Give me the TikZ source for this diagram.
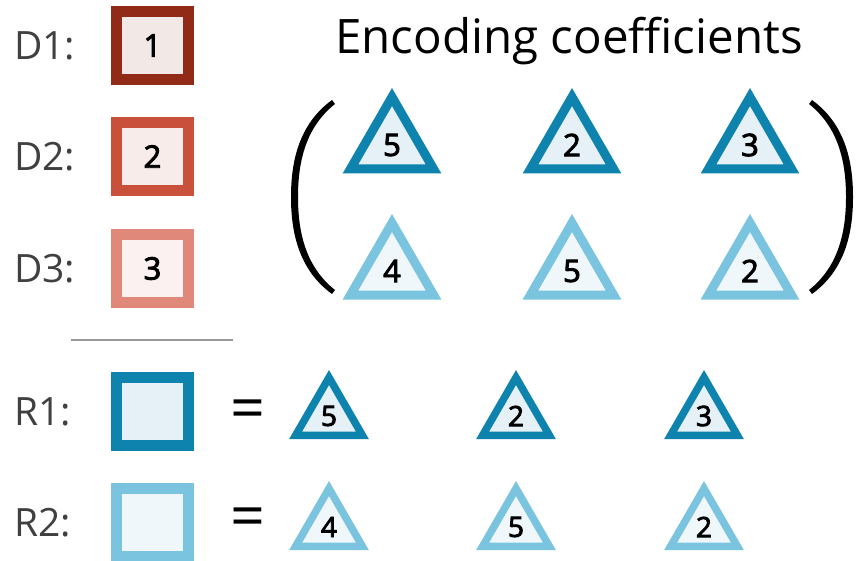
\documentclass[tikz,border=0pt]{standalone}
\usepackage{fontspec}
\setmainfont{Open Sans}
\newfontfamily\numfont{Open Sans}[FakeBold=3]
\usetikzlibrary{shapes.geometric}

% data blocks (reds) and coefficient rows (blues)
\definecolor{dataone}{HTML}{922A18}
\definecolor{datatwo}{HTML}{C9503B}
\definecolor{datathree}{HTML}{E0887A}
\definecolor{dataonefill}{HTML}{F2E9E7}
\definecolor{datatwofill}{HTML}{F7ECE9}
\definecolor{datathreefill}{HTML}{FAF1F0}
\definecolor{rowone}{HTML}{0E83AD}
\definecolor{rowtwo}{HTML}{7AC4DF}
\definecolor{rowonefill}{HTML}{E6F1F7}
\definecolor{rowtwofill}{HTML}{EFF7FB}
\definecolor{labelgray}{HTML}{404040}

\tikzset{
  lbl/.style={anchor=west, inner sep=0, text=labelgray, font=\fontsize{39}{47}\selectfont},
  datbox/.style={rectangle, line width=11pt, minimum width=72pt, minimum height=68pt,
                 inner sep=0, font=\numfont\fontsize{31}{37}\selectfont},
  coef/.style={regular polygon, regular polygon sides=3, line width=9pt,
               minimum size=96pt, inner sep=0, font=\numfont\fontsize{31}{37}\selectfont},
  coefsm/.style={coef, line width=7.5pt, minimum size=77pt, font=\numfont\fontsize{28}{33}\selectfont},
  eqsign/.style={inner sep=0, font=\fontsize{61}{70}\selectfont},
  paren/.pic={
    \fill (41,-97) .. controls (8,-73) and (0,-36) .. (0,0)
                   .. controls (0,36) and (8,73) .. (41,97)
          -- (44,93) .. controls (15,70) and (7,36) .. (7,0)
                   .. controls (7,-36) and (15,-70) .. (44,-93) -- cycle;
  },
}

\begin{document}
\begin{tikzpicture}[x=1pt, y=-1pt]
  \useasboundingbox (0,0) rectangle (856,561);

  % data blocks
  \node[lbl] (ld1) at (14,46) {D1:};
  \node[lbl] (ld2) at (14,157) {D2:};
  \node[lbl] (ld3) at (14,269) {D3:};
  \node[datbox, draw=dataone, fill=dataonefill] (d1) at (152.5,45.5) {1};
  \node[datbox, draw=datatwo, fill=datatwofill] (d2) at (152.5,156.5) {2};
  \node[datbox, draw=datathree, fill=datathreefill] (d3) at (152.5,268.5) {3};

  % coefficient matrix
  \node[anchor=base, inner sep=0, font=\fontsize{47.5}{57}\selectfont] (title) at (569,54) {Encoding coefficients};
  \foreach \cx/\v [count=\i] in {392/5, 572/2, 750/3}
    \node[coef, draw=rowone, fill=rowonefill] (ca\i) at (\cx,145) {\v};
  \foreach \cx/\v [count=\i] in {392/4, 572/5, 750/2}
    \node[coef, draw=rowtwo, fill=rowtwofill] (cb\i) at (\cx,271) {\v};
  \pic at (291,197) {paren};
  \pic[xscale=-1] at (853,197) {paren};

  \draw[line width=2pt, black!40] (71,340) coordinate (sepl) -- (233,340) coordinate (sepr);

  % recovered blocks
  \node[lbl] (lr1) at (14,412) {R1:};
  \node[lbl] (lr2) at (14,523) {R2:};
  \node[datbox, draw=rowone, fill=rowonefill] (r1) at (152.5,411.5) {};
  \node[datbox, draw=rowtwo, fill=rowtwofill] (r2) at (152.5,522) {};
  \node[eqsign] (eq1) at (248,415) {=};
  \node[eqsign] (eq2) at (248,523) {=};
  \foreach \cx/\v [count=\i] in {329/5, 516/2, 704/3}
    \node[coefsm, draw=rowone, fill=rowonefill] (ra\i) at (\cx,416) {\v};
  \foreach \cx/\v [count=\i] in {329/4, 516/5, 704/2}
    \node[coefsm, draw=rowtwo, fill=rowtwofill] (rb\i) at (\cx,527) {\v};
\end{tikzpicture}
\end{document}
